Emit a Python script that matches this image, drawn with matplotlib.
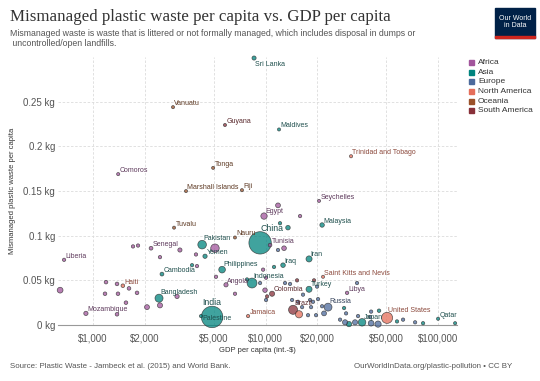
import numpy as np
import matplotlib.pyplot as plt
from matplotlib.patches import Rectangle
from matplotlib.ticker import FixedLocator, NullLocator

plt.rcParams['font.family'] = ['Liberation Sans', 'DejaVu Sans']

# continent colours (Our World in Data palette)
colors = {
    'Africa': '#a2559c',
    'Asia': '#00847e',
    'Europe': '#4c6a9c',
    'North America': '#e56e5a',
    'Oceania': '#9a5129',
    'South America': '#883039',
}
label_colors = {
    'Africa': '#5e3a5c',
    'Asia': '#1f4f4d',
    'Europe': '#33415a',
    'North America': '#8c4a3d',
    'Oceania': '#5e3a24',
    'South America': '#5a2a2e',
}

# labelled countries
names = ['Sri Lanka', 'Vanuatu', 'Guyana', 'Maldives', 'Trinidad and Tobago', 'Comoros',
         'Tonga', 'Marshall Islands', 'Fiji', 'Seychelles', 'Egypt', 'Malaysia', 'Tuvalu',
         'China', 'Nauru', 'Tunisia', 'Pakistan', 'Yemen', 'Senegal', 'Liberia', 'Cambodia',
         'Philippines', 'Iran', 'Iraq', 'Indonesia', 'Angola', 'Saint Kitts and Nevis',
         'Turkey', 'Libya', 'Colombia', 'Brazil', 'Russia', 'Japan', 'United States',
         'Qatar', 'India', 'Palestine', 'Jamaica', 'Bangladesh', 'Haiti', 'Mozambique']
continent = ['Asia', 'Oceania', 'South America', 'Asia', 'North America', 'Africa',
             'Oceania', 'Oceania', 'Oceania', 'Africa', 'Africa', 'Asia', 'Oceania',
             'Asia', 'Oceania', 'Africa', 'Asia', 'Asia', 'Africa', 'Africa', 'Asia',
             'Asia', 'Asia', 'Asia', 'Asia', 'Africa', 'North America',
             'Asia', 'Africa', 'South America', 'South America', 'Europe', 'Asia', 'North America',
             'Asia', 'Asia', 'Asia', 'North America', 'Asia', 'North America', 'Africa']
gdp = [8580, 2910, 5820, 11970, 31300, 1400,
       4970, 3460, 7300, 20420, 9800, 21270, 2950,
       9300, 6650, 10620, 4290, 4460, 2170, 680, 2510,
       5600, 17870, 12630, 8350, 5900, 21540,
       17870, 29680, 10910, 14440, 23030, 36260, 50630,
       100000, 4900, 4230, 7920, 2414, 1490, 910]
waste = [0.299, 0.244, 0.224, 0.219, 0.189, 0.169,
         0.176, 0.150, 0.151, 0.139, 0.122, 0.112, 0.109,
         0.092, 0.098, 0.0895, 0.090, 0.077, 0.086, 0.073, 0.057,
         0.062, 0.074, 0.067, 0.047, 0.045, 0.054,
         0.040, 0.036, 0.035, 0.017, 0.020, 0.003, 0.008,
         0.007, 0.009, 0.010, 0.010, 0.030, 0.044, 0.013]
pop = [21, 0.3, 0.8, 0.4, 1.3, 0.7,
       0.1, 0.05, 0.9, 0.1, 85, 29, 0.01,
       1340, 0.01, 11, 175, 24, 13, 4, 14,
       94, 75, 31, 240, 23, 0.05,
       73, 6, 46, 197, 143, 128, 310,
       2, 1230, 4, 2.7, 150, 10, 24]

# unlabelled countries
other_continent = ['North America', 'Africa', 'Africa', 'Africa', 'Africa', 'Africa',
                   'Africa', 'Africa', 'Africa', 'Africa', 'Africa', 'Africa', 'Africa',
                   'Africa', 'Africa', 'Africa', 'Africa', 'Africa', 'Africa', 'Asia',
                   'Africa', 'Africa', 'Africa', 'Asia', 'Europe', 'Africa', 'Africa',
                   'Asia', 'Africa', 'Europe', 'Africa', 'Asia', 'Africa', 'Asia',
                   'Europe', 'Europe', 'South America', 'Africa', 'South America', 'Europe',
                   'Europe', 'Europe', 'Europe', 'South America', 'Europe', 'Europe',
                   'Europe', 'Europe', 'Europe', 'Europe', 'Europe', 'Europe', 'Europe',
                   'Europe', 'Europe', 'Asia', 'Europe', 'Europe', 'Europe', 'Asia',
                   'Europe', 'Europe', 'Europe', 'Europe', 'Europe', 'Asia', 'Europe',
                   'Asia', 'Europe', 'Europe', 'Asia', 'Asia']
other_gdp = [15630, 645, 1706, 1824, 2445, 3190, 5093, 3953, 1190, 1378, 1617, 1174,
             1396, 1800, 1553, 2056, 1378, 3070, 2445, 3750,
             4006, 5164, 6653, 7811, 9296, 9680, 10070,
             11200, 11810, 11810, 12800, 13490, 15850, 12130,
             12970, 13870, 15230, 9930, 10210, 10070,
             14250, 15430, 16490, 19100, 19890, 33900,
             18110, 18850, 20150, 21270, 16290, 18360, 21830,
             17630, 19620, 28520, 29290, 27030, 28900, 30460,
             33020, 34360, 40910, 40910, 44870, 45470, 40330,
             57800, 62660, 73580, 81830, 125500]
other_waste = [0.012, 0.039, 0.088, 0.089, 0.076, 0.084, 0.086, 0.079, 0.048, 0.046,
               0.041, 0.035, 0.035, 0.036, 0.025, 0.020, 0.012, 0.032, 0.022, 0.067,
               0.066, 0.054, 0.035, 0.051, 0.047, 0.062, 0.053,
               0.065, 0.134, 0.084, 0.086, 0.109, 0.122, 0.114,
               0.047, 0.046, 0.050, 0.039, 0.032, 0.028,
               0.028, 0.026, 0.034, 0.050, 0.043, 0.047,
               0.028, 0.026, 0.029, 0.021, 0.020, 0.020, 0.013,
               0.011, 0.011, 0.019, 0.013, 0.006, 0.003, 0.001,
               0.003, 0.010, 0.015, 0.002, 0.001, 0.016, 0.009,
               0.004, 0.006, 0.003, 0.002, 0.002]
other_pop = [115, 65, 5, 5, 5, 22, 170, 5, 10, 10, 10, 10,
             10, 10, 10, 40, 10, 25, 45, 5,
             5, 5, 5, 5, 5, 5, 5,
             5, 37, 5, 33, 30, 5, 5,
             5, 5, 5, 30, 5, 5,
             5, 5, 5, 5, 5, 5,
             5, 5, 5, 5, 5, 5, 38,
             5, 5, 5, 5, 5, 47, 50,
             47, 5, 5, 63, 81, 8, 5,
             5, 5, 5, 5, 2]

legend_order = ['Africa', 'Asia', 'Europe', 'North America', 'Oceania', 'South America']


def size(p):
    return 5 + 0.19 * np.array(p)


fig = plt.figure(figsize=(5.4, 3.81), dpi=100)
ax = fig.add_axes([0.1074, 0.147, 0.739, 0.703])

all_gdp = np.array(other_gdp + gdp)
all_waste = np.array(other_waste + waste)
all_pop = np.array(other_pop + pop)
all_cont = other_continent + continent
order = np.argsort(-all_pop)
ax.scatter(all_gdp[order], all_waste[order], s=size(all_pop[order]),
           c=[colors[all_cont[i]] for i in order], alpha=0.75,
           edgecolors='#2a2a2a', linewidths=0.5, zorder=3, clip_on=False)

big = {'China': 6.3, 'India': 6.3}
for n, c, x, y, p in zip(names, continent, gdp, waste, pop):
    r = np.sqrt(size(p)) / 2
    fs = big.get(n, 5)
    ha = 'left'
    dx, dy = 1, max(1.5, r)
    if n == 'Sri Lanka':
        dy = -6
    if n == 'India':
        ha, dx, dy = 'center', 0, r + 1
    if n == 'China':
        dx, dy = 0, r + 0.5
    if n == 'Palestine':
        dy = -3
    ax.annotate(n, (x, y), xytext=(dx, dy), textcoords='offset points',
                ha=ha, va='baseline', fontsize=fs, color=label_colors[c], zorder=4)

ax.set_xscale('log')
ax.set_xlim(627, 128800)
ax.set_ylim(0, 0.3)
xt = [1000, 2000, 5000, 10000, 20000, 50000, 100000]
ax.xaxis.set_major_locator(FixedLocator(xt))
ax.xaxis.set_minor_locator(NullLocator())
ax.set_xticklabels(['$' + format(v, ',') for v in xt])
yt = [0, 0.05, 0.1, 0.15, 0.2, 0.25]
ax.set_yticks(yt)
ax.set_yticklabels(['0 kg', '0.05 kg', '0.1 kg', '0.15 kg', '0.2 kg', '0.25 kg'])
ax.tick_params(length=0, labelsize=7, colors='#555555', pad=2)
ax.tick_params(axis='x', pad=6)
ax.grid(color='#dcdcdc', linestyle=(0, (3, 2)), linewidth=0.6)
ax.set_axisbelow(True)
for s in ['top', 'right', 'left']:
    ax.spines[s].set_visible(False)
ax.spines['bottom'].set_color('#999999')
ax.spines['bottom'].set_linewidth(0.8)

ax.set_xlabel('GDP per capita (int.-$)', fontsize=5.5, color='#333333', labelpad=3)
fig.text(0.024, 0.5, 'Mismanaged plastic waste per capita', rotation=90,
         fontsize=5.5, color='#333333', ha='center', va='center')

# legend
for i, cname in enumerate(legend_order):
    yy = 1 - (62.7 + i * 9.6) / 381
    fig.patches.append(Rectangle((469 / 540, yy - 2.5 / 381), 5 / 540, 5 / 381,
                                 transform=fig.transFigure, color=colors[cname]))
    fig.text(478 / 540, yy, cname, fontsize=6, color='#333333', va='center')

# titles
fig.text(10 / 540, 1 - 17 / 381, 'Mismanaged plastic waste per capita vs. GDP per capita',
         family=['Liberation Serif'], fontsize=12.2, color='#333333', va='center')
fig.text(10 / 540, 1 - 33 / 381,
         'Mismanaged waste is waste that is littered or not formally managed, which includes disposal in dumps or',
         fontsize=6.3, color='#555555', va='center')
fig.text(10 / 540, 1 - 43 / 381, ' uncontrolled/open landfills.',
         fontsize=6.3, color='#555555', va='center')

# footer
fig.text(10 / 540, 1 - 367 / 381, 'Source: Plastic Waste - Jambeck et al. (2015) and World Bank.',
         fontsize=5.7, color='#555555', va='center')
fig.text(512 / 540, 1 - 367 / 381, 'OurWorldInData.org/plastic-pollution \u2022 CC BY',
         fontsize=5.7, color='#555555', va='center', ha='right')

# logo
fig.patches.append(Rectangle((495 / 540, 1 - 38 / 381), 40 / 540, 30 / 381,
                             transform=fig.transFigure, color='#002147'))
fig.patches.append(Rectangle((495 / 540, 1 - 38 / 381), 40 / 540, 2.5 / 381,
                             transform=fig.transFigure, color='#ce261e'))
fig.text(515 / 540, 1 - 22 / 381, 'Our World\nin Data', fontsize=5, color='white',
         ha='center', va='center', linespacing=1.1)

fig.savefig('out.png', dpi=100)
